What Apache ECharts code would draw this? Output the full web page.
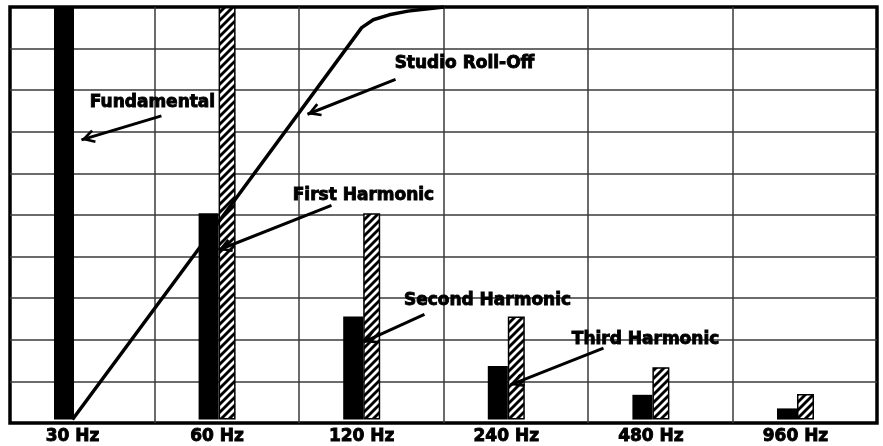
<!DOCTYPE html>
<html><head><meta charset="utf-8">
<script src="https://cdn.jsdelivr.net/npm/echarts@6/dist/echarts.min.js"></script>
<style>html,body{margin:0;padding:0;background:#fff}#c{width:883px;height:446px}</style>
</head><body><div id="c"></div>
<script>
// ---- data ----
const categories = ['30 Hz', '60 Hz', '120 Hz', '240 Hz', '480 Hz', '960 Hz'];
const fundamentalLevels = [10, 5, 2.5, 1.3, 0.6, 0.27];
const harmonicLevels = [null, 10, 5, 2.5, 1.27, 0.62];
const rollOffX = [0, 1, 2, 2.08, 2.19, 2.32, 2.46, 2.57];
const rollOffY = [0, 4.74, 9.5, 9.69, 9.81, 9.9, 9.96, 10];
const annotationLabels = ['Fundamental', 'Studio Roll-Off', 'First Harmonic', 'Second Harmonic', 'Third Harmonic'];
const labelAt = [[0.553, 7.69], [2.711, 8.63], [2.012, 5.43], [2.87, 2.885], [3.963, 1.947]];
const arrowFrom = [[0.615, 7.36], [2.234, 8.245], [1.791, 5.19], [2.434, 2.548], [3.672, 1.731]];
const arrowTo = [[0.062, 6.78], [1.625, 7.40], [1.01, 4.11], [2.012, 1.875], [3.029, 0.841]];

function hatch() {
  const s = 8;
  const c = document.createElement('canvas');
  c.width = s; c.height = s;
  const g = c.getContext('2d');
  g.fillStyle = '#fff'; g.fillRect(0, 0, s, s);
  g.strokeStyle = '#000'; g.lineWidth = 2.9;
  g.beginPath();
  for (const k of [0, s, 2 * s]) { g.moveTo(k + 1, -1); g.lineTo(-1, k + 1); }
  g.stroke();
  return c;
}

const font = 'DejaVu Sans';
const heavy = { color: '#000', fontSize: 17, fontWeight: 'bold', fontFamily: font, textBorderColor: '#000', textBorderWidth: 0.9 };
const chevron = 'path://M5,-12 L5.02,-12 L5,-11.98 Z M5,0 L11,11 L9,12.2 L5,4.8 L1,12.2 L-1,11 Z';
const chart = echarts.init(document.getElementById('c'));
const gridLine = { show: true, showMinLine: false, showMaxLine: false, lineStyle: { color: '#3a3a3a', width: 1.5 } };
chart.setOption({
  animation: false,
  backgroundColor: '#fff',
  grid: [
    { left: 10, right: 6, top: 7, bottom: 23, show: true, borderColor: '#000', borderWidth: 3.5, backgroundColor: 'transparent', z: 0 },
    { left: 0.2, right: 15.2, top: 7, bottom: 23 }
  ],
  xAxis: [
    { gridIndex: 0, type: 'value', min: 0, max: 6, interval: 1, axisLine: { show: false }, axisTick: { show: false }, axisLabel: { show: false }, splitLine: gridLine },
    { gridIndex: 1, type: 'category', data: categories, axisLine: { show: false }, axisTick: { show: false }, splitLine: { show: false },
      axisLabel: Object.assign({ margin: 9 }, heavy) },
    { gridIndex: 1, type: 'value', min: -0.5, max: 5.5, show: false }
  ],
  yAxis: [
    { gridIndex: 0, type: 'value', min: 0, max: 10, interval: 1, axisLine: { show: false }, axisTick: { show: false }, axisLabel: { show: false }, splitLine: gridLine },
    { gridIndex: 1, type: 'value', min: 0, max: 10, show: false }
  ],
  series: [
    { type: 'bar', name: 'Fundamental', xAxisIndex: 1, yAxisIndex: 1, barWidth: 20, barGap: '0%', data: fundamentalLevels, itemStyle: { color: '#000' }, z: 3 },
    { type: 'bar', name: 'Harmonic', xAxisIndex: 1, yAxisIndex: 1, barWidth: 17, barGap: '0%', data: harmonicLevels,
      itemStyle: { color: { image: hatch(), repeat: 'repeat' }, borderColor: '#000', borderWidth: 1.5 }, z: 3 },
    { type: 'line', name: 'Studio Roll-Off', xAxisIndex: 2, yAxisIndex: 1, showSymbol: false, symbol: 'none', z: 5,
      data: rollOffX.map((x, i) => [x, rollOffY[i]]),
      lineStyle: { color: '#000', width: 3.5 },
      markLine: {
        silent: true, animation: false,
        symbol: ['none', chevron],
        symbolSize: [14, 27],
        lineStyle: { color: '#000', width: 3, type: 'solid' },
        itemStyle: { color: '#000' },
        label: { show: false },
        data: arrowFrom.map((p, i) => [{ coord: p }, { coord: arrowTo[i] }])
      },
      markPoint: {
        silent: true, animation: false,
        symbol: 'circle', symbolSize: 1,
        itemStyle: { color: 'rgba(0,0,0,0)' },
        label: Object.assign({ show: true, position: 'inside', formatter: p => p.name }, heavy),
        data: annotationLabels.map((t, i) => ({ name: t, coord: labelAt[i] }))
      }
    }
  ]
});
</script></body></html>
